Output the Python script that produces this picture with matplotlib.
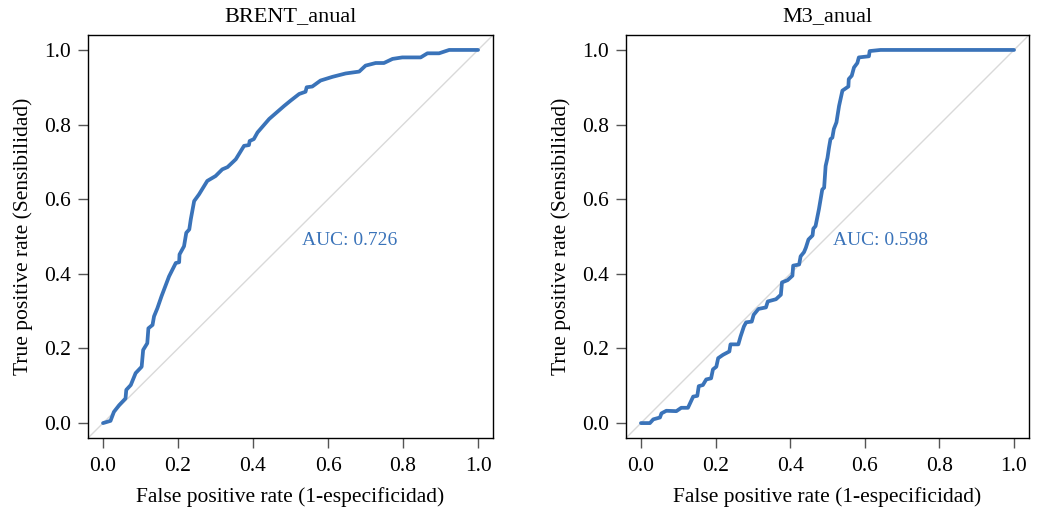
import matplotlib
matplotlib.use("Agg")
import matplotlib.pyplot as plt

plt.rcParams['font.family'] = ['Liberation Serif', 'DejaVu Serif']

# ROC curve for BRENT_anual (fpr, tpr)
brent_fpr = [0.0, 0.02, 0.029, 0.043, 0.06, 0.062, 0.074, 0.087, 0.103, 0.107, 0.118, 0.121,
             0.132, 0.136, 0.145, 0.156, 0.176, 0.194, 0.203, 0.204, 0.216, 0.222, 0.23, 0.234,
             0.243, 0.256, 0.278, 0.3, 0.318, 0.332, 0.354, 0.376, 0.389, 0.391, 0.402, 0.412,
             0.443, 0.483, 0.5, 0.523, 0.54, 0.543, 0.558, 0.58, 0.612, 0.647, 0.683, 0.7,
             0.727, 0.749, 0.772, 0.798, 0.847, 0.865, 0.896, 0.923, 1.0]
brent_tpr = [0.0, 0.006, 0.03, 0.048, 0.066, 0.089, 0.102, 0.134, 0.151, 0.196, 0.214, 0.254,
             0.263, 0.286, 0.308, 0.34, 0.393, 0.429, 0.431, 0.452, 0.474, 0.51, 0.519, 0.546,
             0.595, 0.613, 0.649, 0.662, 0.68, 0.686, 0.707, 0.743, 0.745, 0.756, 0.761, 0.779,
             0.815, 0.85, 0.864, 0.882, 0.888, 0.9, 0.902, 0.918, 0.928, 0.937, 0.942, 0.958,
             0.965, 0.965, 0.976, 0.98, 0.98, 0.991, 0.991, 1.0, 1.0]

# ROC curve for M3_anual (fpr, tpr)
m3_fpr = [0.0, 0.024, 0.033, 0.051, 0.055, 0.068, 0.095, 0.108, 0.126, 0.14, 0.151, 0.155,
          0.166, 0.175, 0.188, 0.193, 0.202, 0.207, 0.22, 0.237, 0.24, 0.261, 0.267, 0.276,
          0.282, 0.297, 0.302, 0.315, 0.335, 0.34, 0.362, 0.375, 0.378, 0.393, 0.406, 0.408,
          0.424, 0.428, 0.437, 0.442, 0.449, 0.46, 0.462, 0.468, 0.477, 0.486, 0.491, 0.495,
          0.5, 0.504, 0.508, 0.513, 0.517, 0.524, 0.531, 0.54, 0.556, 0.557, 0.565, 0.571,
          0.58, 0.584, 0.611, 0.613, 0.642, 1.0]
m3_tpr = [0.0, 0.0, 0.01, 0.015, 0.026, 0.033, 0.032, 0.041, 0.041, 0.071, 0.073, 0.099,
          0.102, 0.117, 0.12, 0.144, 0.151, 0.174, 0.183, 0.192, 0.211, 0.211, 0.232, 0.259,
          0.27, 0.272, 0.29, 0.306, 0.31, 0.326, 0.332, 0.344, 0.377, 0.383, 0.395, 0.422,
          0.425, 0.447, 0.458, 0.47, 0.492, 0.503, 0.521, 0.528, 0.573, 0.626, 0.631, 0.689,
          0.711, 0.738, 0.761, 0.765, 0.788, 0.806, 0.85, 0.891, 0.902, 0.922, 0.931, 0.953,
          0.965, 0.98, 0.983, 0.997, 1.0, 1.0]

titles = ["BRENT_anual", "M3_anual"]
auc_labels = ["AUC: 0.726", "AUC: 0.598"]
auc_x = [0.53, 0.515]
ticks = [0.0, 0.2, 0.4, 0.6, 0.8, 1.0]

line_color = "#3A73B9"

fig = plt.figure(figsize=(10.38, 5.12), dpi=100)
ax1 = fig.add_axes([0.0848, 0.1445, 0.3902, 0.7871])
ax2 = fig.add_axes([0.6031, 0.1445, 0.3882, 0.7871])

curves = [(brent_fpr, brent_tpr), (m3_fpr, m3_tpr)]
for ax, (fpr, tpr), title, auc, ax_x in zip([ax1, ax2], curves, titles, auc_labels, auc_x):
    ax.set_xlim(-0.04, 1.04)
    ax.set_ylim(-0.04, 1.04)
    # chance diagonal across the whole box
    ax.plot([-0.04, 1.04], [-0.04, 1.04], color="#d9d9d9", lw=1.0, zorder=1)
    ax.plot(fpr, tpr, color=line_color, lw=2.7, solid_capstyle="round",
            solid_joinstyle="round", zorder=3)
    ax.text(ax_x, 0.49, auc, color=line_color, fontsize=14, ha="left", va="center")
    ax.set_title(title, fontsize=16, pad=10)
    ax.set_xticks(ticks)
    ax.set_yticks(ticks)
    ax.set_xticklabels(["%.1f" % t for t in ticks])
    ax.set_yticklabels(["%.1f" % t for t in ticks])
    ax.tick_params(axis="both", direction="out", length=7, width=1.0, color="#555555",
                   labelsize=15.5, pad=5)
    ax.tick_params(axis="x", pad=7)
    ax.set_xlabel("False positive rate (1-especificidad)", fontsize=15.5, labelpad=8)
    ax.set_ylabel("True positive rate (Sensibilidad)", fontsize=15.5, labelpad=8)
    for sp in ax.spines.values():
        sp.set_linewidth(1.0)
        sp.set_color("black")

fig.savefig("out.png", dpi=100)
